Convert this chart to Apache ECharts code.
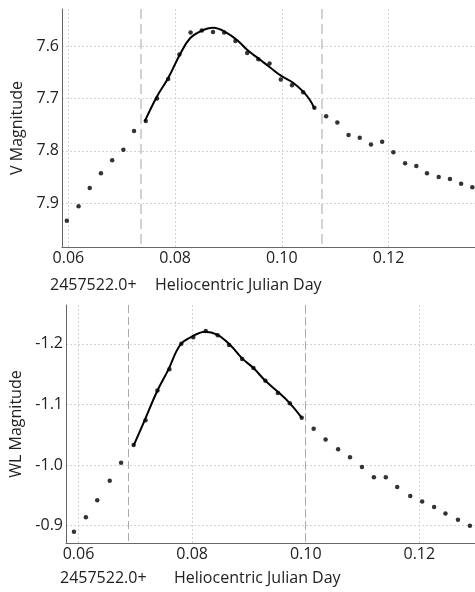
<!DOCTYPE html>
<html>
<head>
<meta charset="utf-8">
<title>Light curves</title>
<script src="https://cdn.jsdelivr.net/npm/echarts@6/dist/echarts.min.js"></script>
<style>
  html, body { margin: 0; padding: 0; background: #fff; }
  #chart { width: 475px; height: 592px; }
</style>
</head>
<body>
<div id="chart"></div>
<script>
// V band observations (HJD - 2457522.0)
const vDay = [0.0597, 0.0619, 0.0640, 0.0661, 0.0682, 0.0703, 0.0723, 0.0745, 0.0766, 0.0787,
  0.0808, 0.0829, 0.0850, 0.0871, 0.0892, 0.0913, 0.0935, 0.0956, 0.0977, 0.0998,
  0.1019, 0.1040, 0.1061, 0.1083, 0.1104, 0.1125, 0.1146, 0.1167, 0.1188, 0.1209,
  0.1231, 0.1252, 0.1272, 0.1294, 0.1315, 0.1336, 0.1357]
const vMag = [7.934, 7.906, 7.871, 7.843, 7.818, 7.798, 7.762, 7.743, 7.700, 7.663,
  7.616, 7.574, 7.570, 7.573, 7.574, 7.590, 7.613, 7.625, 7.633, 7.664,
  7.675, 7.688, 7.718, 7.734, 7.746, 7.770, 7.775, 7.788, 7.783, 7.803,
  7.824, 7.829, 7.843, 7.850, 7.854, 7.863, 7.870]
// V band fitted curve
const vFitDay = [0.0743, 0.0765, 0.0787, 0.0809, 0.0828, 0.0849, 0.0871, 0.0896, 0.0918,
  0.0936, 0.0958, 0.0977, 0.0999, 0.1021, 0.1039, 0.1052, 0.1061]
const vFitMag = [7.744, 7.698, 7.661, 7.616, 7.585, 7.571, 7.565, 7.574, 7.590,
  7.608, 7.625, 7.640, 7.657, 7.670, 7.686, 7.702, 7.719]
const vBounds = [0.0736, 0.1074]

// WL observations
const wlDay = [0.0592, 0.0613, 0.0633, 0.0655, 0.0675, 0.0697, 0.0718, 0.0739, 0.0760, 0.0781,
  0.0802, 0.0824, 0.0845, 0.0865, 0.0888, 0.0908, 0.0929, 0.0951, 0.0972, 0.0993,
  0.1014, 0.1035, 0.1057, 0.1078, 0.1099, 0.1120, 0.1141, 0.1161, 0.1184, 0.1205,
  0.1226, 0.1246, 0.1268, 0.1289]
const wlMag = [-0.890, -0.914, -0.942, -0.974, -1.004, -1.033, -1.074, -1.123, -1.158, -1.200,
  -1.211, -1.221, -1.214, -1.198, -1.175, -1.160, -1.139, -1.119, -1.102, -1.078,
  -1.060, -1.042, -1.026, -1.013, -0.997, -0.980, -0.980, -0.964, -0.949, -0.940,
  -0.931, -0.920, -0.910, -0.900]
// WL fitted curve
const wlFitDay = [0.0697, 0.0717, 0.0738, 0.0758, 0.0779, 0.0800, 0.0823, 0.0844, 0.0867,
  0.0888, 0.0908, 0.0929, 0.0952, 0.0973, 0.0993]
const wlFitMag = [-1.032, -1.075, -1.121, -1.157, -1.198, -1.212, -1.220, -1.215, -1.198,
  -1.176, -1.160, -1.139, -1.120, -1.101, -1.078]
const wlBounds = [0.0688, 0.0999]

const pairs = (xs, ys) => xs.map((x, i) => [x, ys[i]])

const textColor = '#222'
const fontFamily = '"Open Sans", "Noto Sans", sans-serif'
const fontSize = 16

function xAxisFor(gridIndex, min, max) {
  return {
    type: 'value',
    gridIndex: gridIndex,
    min: min,
    max: max,
    splitNumber: 4,
    axisLine: { show: true, onZero: false, lineStyle: { color: '#666' } },
    axisTick: { show: false },
    axisLabel: {
      color: textColor, fontSize: fontSize, fontFamily: fontFamily, margin: 3,
      showMinLabel: false, showMaxLabel: false,
      formatter: v => v.toFixed(2)
    },
    splitLine: {
      show: true, showMinLine: false, showMaxLine: false,
      lineStyle: { color: '#d4d4d4', type: [2, 2] }
    }
  }
}

function yAxisFor(gridIndex, min, max, name, gap) {
  return {
    type: 'value',
    gridIndex: gridIndex,
    min: min,
    max: max,
    inverse: true,
    splitNumber: 5,
    name: name,
    nameLocation: 'middle',
    nameGap: gap,
    nameTextStyle: { color: textColor, fontSize: fontSize, fontFamily: fontFamily },
    axisLine: { show: true, onZero: false, lineStyle: { color: '#666' } },
    axisTick: { show: false },
    axisLabel: {
      color: textColor, fontSize: fontSize, fontFamily: fontFamily, margin: 3,
      showMinLabel: false, showMaxLabel: false,
      formatter: v => v.toFixed(1)
    },
    splitLine: {
      show: true, showMinLine: false, showMaxLine: false,
      lineStyle: { color: '#d4d4d4', type: [2, 2] }
    }
  }
}

function boundLines(xs, style) {
  return {
    silent: true,
    precision: 4,
    symbol: ['none', 'none'],
    label: { show: false },
    lineStyle: style,
    data: xs.map(x => ({ xAxis: x }))
  }
}

const chart = echarts.init(document.getElementById('chart'))
chart.setOption({
  animation: false,
  grid: [
    { left: 62, top: 9, right: 0, height: 238, outerBoundsMode: 'none', containLabel: false },
    { left: 66, top: 305, right: 0, height: 238, outerBoundsMode: 'none', containLabel: false }
  ],
  xAxis: [
    xAxisFor(0, 0.0588, 0.1362),
    xAxisFor(1, 0.0578, 0.1298)
  ],
  yAxis: [
    yAxisFor(0, 7.529, 7.984, 'V Magnitude', 37),
    yAxisFor(1, -1.264, -0.8715, 'WL Magnitude', 41)
  ],
  graphic: [
    { type: 'text', left: 50, top: 277, style: { text: '2457522.0+', fill: textColor, font: fontSize + 'px ' + fontFamily } },
    { type: 'text', left: 155, top: 277, style: { text: 'Heliocentric Julian Day', fill: textColor, font: fontSize + 'px ' + fontFamily } },
    { type: 'text', left: 60, top: 570, style: { text: '2457522.0+', fill: textColor, font: fontSize + 'px ' + fontFamily } },
    { type: 'text', left: 174, top: 570, style: { text: 'Heliocentric Julian Day', fill: textColor, font: fontSize + 'px ' + fontFamily } }
  ],
  series: [
    {
      type: 'scatter',
      xAxisIndex: 0, yAxisIndex: 0,
      symbolSize: 4.5,
      itemStyle: { color: '#000' },
      data: pairs(vDay, vMag),
      markLine: boundLines(vBounds, { color: '#d2d2d2', width: 2, type: [10, 5] })
    },
    {
      type: 'line',
      xAxisIndex: 0, yAxisIndex: 0,
      smooth: 0.4,
      showSymbol: false,
      lineStyle: { color: '#000', width: 2 },
      data: pairs(vFitDay, vFitMag)
    },
    {
      type: 'scatter',
      xAxisIndex: 1, yAxisIndex: 1,
      symbolSize: 4.5,
      itemStyle: { color: '#000' },
      data: pairs(wlDay, wlMag),
      markLine: boundLines(wlBounds, { color: '#aaaaaa', width: 1, type: [8, 4] })
    },
    {
      type: 'line',
      xAxisIndex: 1, yAxisIndex: 1,
      smooth: 0.4,
      showSymbol: false,
      lineStyle: { color: '#000', width: 2 },
      data: pairs(wlFitDay, wlFitMag)
    }
  ]
})
</script>
</body>
</html>
